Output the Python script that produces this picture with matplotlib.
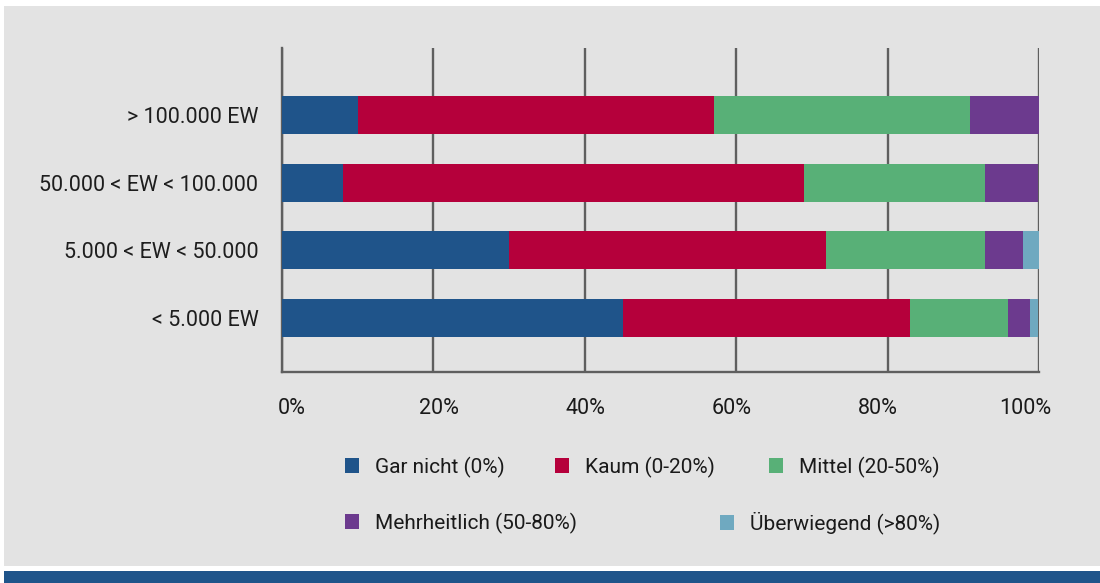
import matplotlib
matplotlib.use("Agg")
import matplotlib.pyplot as plt
from matplotlib.patches import Rectangle, Patch
import numpy as np

categories = ["> 100.000 EW", "50.000 < EW < 100.000", "5.000 < EW < 50.000", "< 5.000 EW"]
series_names = ["Gar nicht (0%)", "Kaum (0-20%)", "Mittel (20-50%)",
                "Mehrheitlich (50-80%)", "Überwiegend (>80%)"]
gar_nicht = [10.0, 8.0, 30.0, 45.0]
kaum = [47.1, 61.0, 41.9, 38.0]
mittel = [33.8, 23.9, 21.0, 12.9]
mehrheitlich = [9.1, 7.0, 5.0, 2.9]
ueberwiegend = [0.0, 0.0, 2.1, 1.1]
xtick_values = [0, 20, 40, 60, 80, 100]
xtick_labels = ["0%", "20%", "40%", "60%", "80%", "100%"]

colors = ["#1f548a", "#b5003b", "#58b077", "#6c3a8e", "#6fa9c0"]
series = [gar_nicht, kaum, mittel, mehrheitlich, ueberwiegend]

W, H = 1100, 583
fig = plt.figure(figsize=(W / 100, H / 100), dpi=100)
fig.patch.set_facecolor("white")

# background panel and bottom band
fig.patches.append(Rectangle((4 / W, 1 - 566 / H), 1 - 4 / W, 560 / H,
                             transform=fig.transFigure, facecolor="#e3e3e3",
                             edgecolor="none", zorder=-10))
fig.patches.append(Rectangle((4 / W, 0), 1 - 4 / W, 12 / H,
                             transform=fig.transFigure, facecolor="#1f548a",
                             edgecolor="none", zorder=-10))

ax = fig.add_axes([282 / W, 1 - 372 / H, (1039 - 282) / W, (372 - 48) / H])
ax.set_facecolor("none")

ypos = np.arange(len(categories))[::-1]
left = np.zeros(len(categories))
handles = []
for name, vals, c in zip(series_names, series, colors):
    ax.barh(ypos, vals, left=left, height=0.56, color=c, edgecolor="none",
            zorder=3, label=name)
    left += np.array(vals)
    handles.append(Patch(facecolor=c, edgecolor="none", label=name))

ax.set_xlim(0, 100)
ax.set_ylim(-0.80, 3.99)

gridc = "#5f5f5f"
ax.set_xticks(xtick_values)
ax.xaxis.grid(True, color=gridc, linewidth=1.7, zorder=1)
ax.set_axisbelow(True)
ax.tick_params(axis="x", length=0, labelbottom=False)
for s in ["top", "right"]:
    ax.spines[s].set_visible(False)
for s in ["left", "bottom"]:
    ax.spines[s].set_color(gridc)
    ax.spines[s].set_linewidth(1.7)
    ax.spines[s].set_zorder(2)

ax.set_yticks(ypos)
ax.set_yticklabels(categories, fontsize=15.5, family=["Roboto", "DejaVu Sans"],
                   color="#1e1e1e")
ax.tick_params(axis="y", length=0, pad=17)

cond = ["Roboto", "DejaVu Sans"]

# x tick labels (spread slightly inside the axis, as in the reference)
trans = matplotlib.transforms.blended_transform_factory(ax.transData, fig.transFigure)
for v, lab in zip(xtick_values, xtick_labels):
    xd = 1.32 + 0.968 * v
    ax.text(xd, 1 - 409 / H, lab, transform=trans, ha="center", va="center",
            fontsize=15.5, family=cond, color="#1a1a1a")

# legend entries
legend_pos = [(345, 467), (555, 467), (769, 467), (345, 523), (720, 523)]
for h, (px, py) in zip(handles, legend_pos):
    leg = fig.legend(handles=[h], loc="center left",
                     bbox_to_anchor=(px / W, 1 - py / H),
                     frameon=False, borderpad=0, borderaxespad=0,
                     handlelength=0.68, handleheight=0.68, handletextpad=0.75,
                     prop={"family": cond, "size": 15})
    for t in leg.get_texts():
        t.set_color("#1a1a1a")

fig.savefig("out.png", dpi=100, facecolor="white")
